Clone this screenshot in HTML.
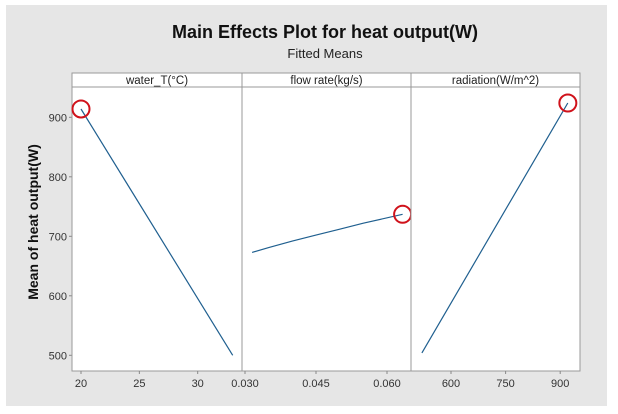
<!DOCTYPE html>
<html><head><meta charset="utf-8"><style>
html,body{margin:0;padding:0;background:#fff;width:618px;height:414px;overflow:hidden}
svg text{font-family:"Liberation Sans",sans-serif}
</style></head><body>
<svg id="chart" width="618" height="414" xmlns="http://www.w3.org/2000/svg">
<rect x="6" y="5" width="601" height="401" fill="#e6e6e6"/>
<text x="325" y="38" text-anchor="middle" font-size="18" font-weight="bold" fill="#111">Main Effects Plot for heat output(W)</text>
<text x="325" y="58" text-anchor="middle" font-size="13" fill="#222">Fitted Means</text>
<text transform="translate(38,222) rotate(-90)" text-anchor="middle" font-size="14" font-weight="bold" fill="#111">Mean of heat output(W)</text>
<g id="plot"></g>
</svg>
<script>
const yTicks=[500,600,700,800,900];
const panelTitles=["water_T(°C)","flow rate(kg/s)","radiation(W/m^2)"];
const p1X=[20,33];
const p1Y=[914,500];
const p2X=[0.0315,0.035,0.040,0.045,0.050,0.055,0.0633];
const p2Y=[673,681,692,702,712,722,737];
const p3X=[520,921];
const p3Y=[504,924];
const p1Ticks=[20,25,30];
const p2Ticks=[0.030,0.045,0.060];
const p3Ticks=[600,750,900];
const p1TickLabels=["20","25","30"];
const p2TickLabels=["0.030","0.045","0.060"];
const p3TickLabels=["600","750","900"];
const highlightIdx=[0,p2X.length-1,p3X.length-1];

const NS="http://www.w3.org/2000/svg";
const g=document.getElementById('plot');
function el(t,a,p){const e=document.createElementNS(NS,t);for(const k in a)e.setAttribute(k,a[k]);(p||g).appendChild(e);return e;}
const yTop=87,yBot=371;
const yS=v=>355.3-(v-500)*0.595;
const panels=[
 {x0:72,x1:242,xs:v=>81+(v-20)*11.67,X:p1X,Y:p1Y,T:p1Ticks,L:p1TickLabels},
 {x0:242,x1:411,xs:v=>245+(v-0.030)*4733,X:p2X,Y:p2Y,T:p2Ticks,L:p2TickLabels},
 {x0:411,x1:580,xs:v=>451+(v-600)*0.364,X:p3X,Y:p3Y,T:p3Ticks,L:p3TickLabels}
];
// y axis
yTicks.forEach(v=>{
 const t=el('line',{x1:69,x2:72,y1:yS(v),y2:yS(v),stroke:'#888'});
 
 
 const l=el('text',{x:67,y:yS(v)+4,'text-anchor':'end','font-size':11,fill:'#333'});
 l.textContent=v;
 
 
});
panels.forEach((p,i)=>{
 const r=el('rect',{x:p.x0,y:yTop,width:p.x1-p.x0,height:yBot-yTop,fill:'#fff',stroke:'#999'});
 
 
 const s=el('rect',{x:p.x0,y:73,width:p.x1-p.x0,height:14,fill:'#fff',stroke:'#999'});
 
 
 const st=el('text',{x:(p.x0+p.x1)/2,y:84,'text-anchor':'middle','font-size':11.5,fill:'#222'});
 st.textContent=panelTitles[i];
 
 
 p.T.forEach((v,j)=>{
  const x=p.xs(v);
  const tk=el('line',{x1:x,x2:x,y1:yBot,y2:yBot+3,stroke:'#888'});
  
  
  const tl=el('text',{x:x,y:387,'text-anchor':'middle','font-size':11,fill:'#333'});
  tl.textContent=p.L[j];
  
  
 });
 const pts=p.X.map((v,j)=>p.xs(v).toFixed(1)+','+yS(p.Y[j]).toFixed(1)).join(' ');
 const ln=el('polyline',{points:pts,fill:'none',stroke:'#1f5f8f','stroke-width':1.2});
 
 
 const k=highlightIdx[i];
 const c=el('circle',{cx:p.xs(p.X[k]),cy:yS(p.Y[k]),r:8.5,fill:'none',stroke:'#d0121b','stroke-width':2});
 
 
});
</script>
</body></html>
